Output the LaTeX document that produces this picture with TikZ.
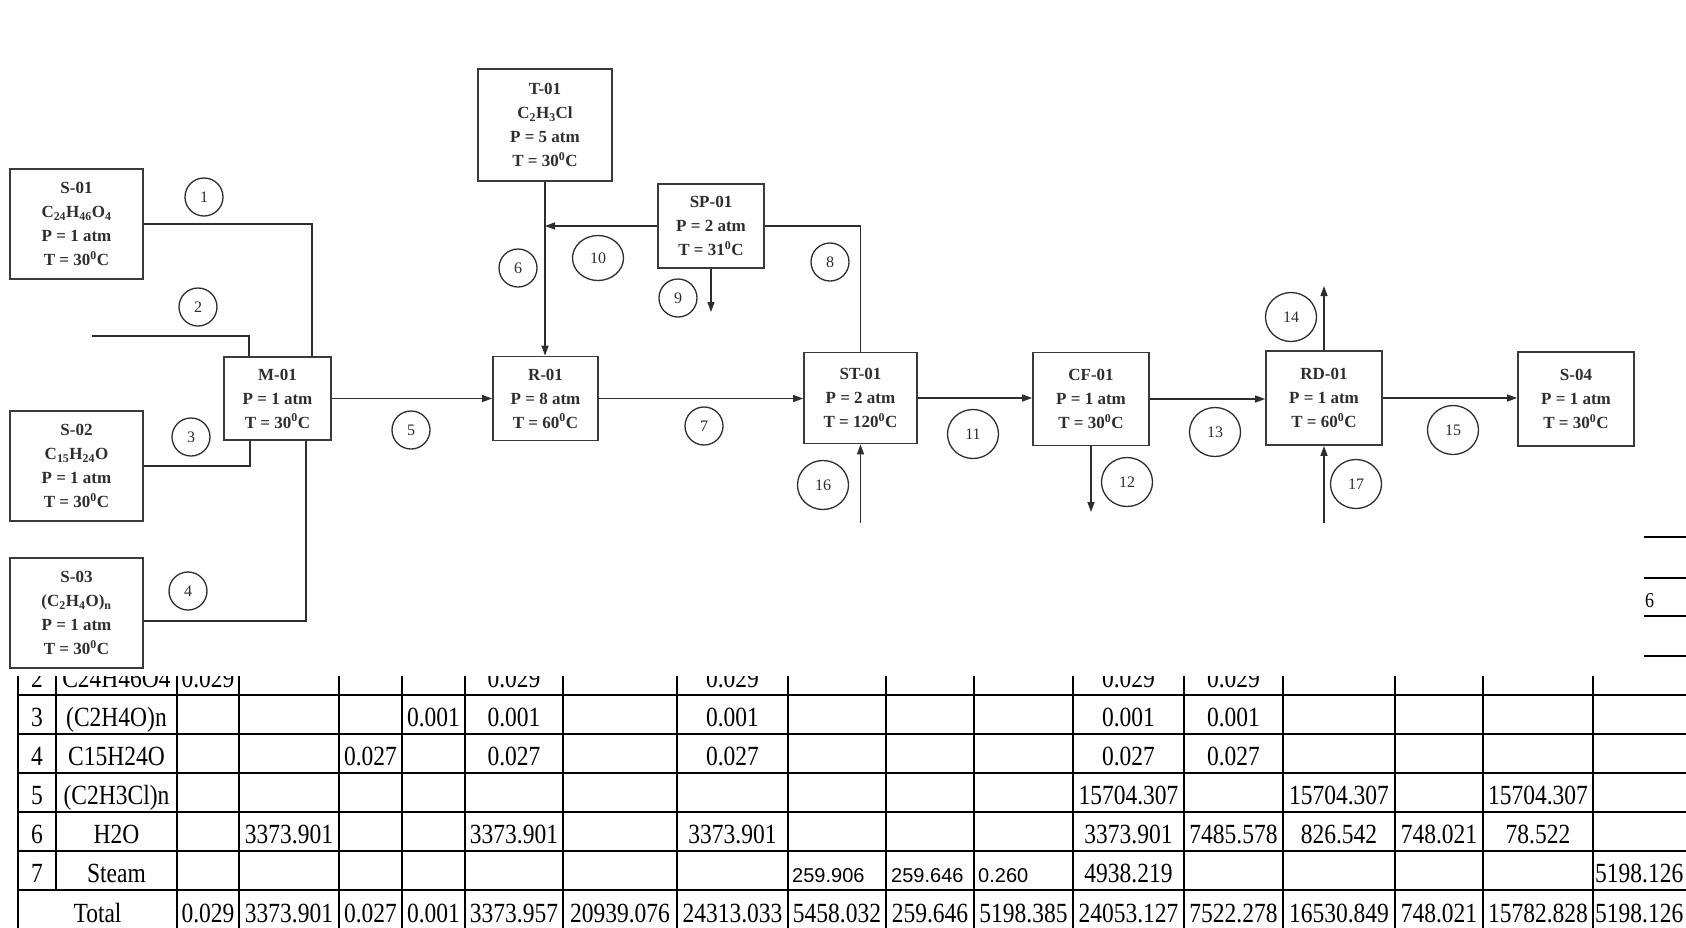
\documentclass[tikz,border=0pt]{standalone}
\usepackage{fontspec}
\setmainfont{Liberation Serif}
\newfontfamily\arialfont{Liberation Sans}
\usetikzlibrary{arrows.meta,shapes.geometric}
\definecolor{ink}{HTML}{2E2E2E}
\definecolor{edge}{HTML}{3A3A3A}
\newcommand{\dgC}{\textsuperscript{0}C}
\newcommand{\tall}[1]{\scalebox{1}[1.18]{#1}}
\tikzset{
  unit/.style={draw=edge, line width=1.8pt, align=center, text=ink,
               font=\fontsize{17}{24}\selectfont\bfseries, inner sep=2pt},
  tank/.style={unit, minimum width=133pt, minimum height=110pt},
  strm/.style={draw=ink, line width=1.3pt, circle, minimum size=38pt,
               inner sep=0pt, text=ink, font=\fontsize{16}{16}\selectfont},
  strmw/.style={strm, ellipse, minimum width=51pt, minimum height=49pt},
  flow/.style={line width=1.4pt, draw=ink},
  feed/.style={flow, -{Triangle[length=10pt,width=7pt]}},
  grid/.style={line width=2.8pt, draw=black},
  cell/.style={font=\fontsize{23.5}{28}\selectfont, anchor=base, inner sep=0pt},
  scell/.style={font=\arialfont\fontsize{20}{24}\selectfont, anchor=base west,
                inner sep=0pt},
}

\begin{document}
\begin{tikzpicture}[x=1pt, y=-1pt]
  \useasboundingbox (0,0) rectangle (1686,927);

  % ---------------------------------------------------------- the table behind
  \begin{scope}
    \clip (0,676) rectangle (1686,927);
    \foreach \y in {695,734,773,812,851,890}
      \draw[grid] (18,\y) -- (1700,\y);
    \draw[grid] (18,670) -- (18,940);
    \draw[grid] (56,670) -- (56,890);
    \foreach \x in {177,239,339,402,465,563,677,788,886,974,1073,1184,1283,1395,1483,1593}
      \draw[grid] (\x,670) -- (\x,940);

    \foreach \n/\x in {0/37, 1/208, 2/289, 3/370.5, 4/433.5, 5/514, 6/620, 7/732.5,
                       8/837, 9/930, 10/1023.5, 11/1128.5, 12/1233.5, 13/1339,
                       14/1439, 15/1538}
      \coordinate (c\n) at (\x,0);
    \coordinate (cname) at (116.5,0);
    \foreach \n/\y in {2/687, 3/726, 4/765, 5/804, 6/843, 7/882, T/922}
      \coordinate (r\n) at (0,\y);

    % row labels
    \node[cell] (k2) at (c0 |- r2) {\tall{2}};
    \node[cell] (k3) at (c0 |- r3) {\tall{3}};
    \node[cell] (k4) at (c0 |- r4) {\tall{4}};
    \node[cell] (k5) at (c0 |- r5) {\tall{5}};
    \node[cell] (k6) at (c0 |- r6) {\tall{6}};
    \node[cell] (k7) at (c0 |- r7) {\tall{7}};
    \node[cell] (m2) at (cname |- r2) {\tall{C24H46O4}};
    \node[cell] (m3) at (cname |- r3) {\tall{(C2H4O)n}};
    \node[cell] (m4) at (cname |- r4) {\tall{C15H24O}};
    \node[cell] (m5) at (cname |- r5) {\tall{(C2H3Cl)n}};
    \node[cell] (m6) at (cname |- r6) {\tall{H2O}};
    \node[cell] (m7) at (cname |- r7) {\tall{Steam}};
    \node[cell] (mT) at (97.5,922) {\tall{Total}};

    % flows
    \foreach \c/\v in {1/0.029, 5/0.029, 7/0.029, 11/0.029, 12/0.029}
      \node[cell] (v2-\c) at (c\c |- r2) {\tall{\v}};
    \foreach \c/\v in {4/0.001, 5/0.001, 7/0.001, 11/0.001, 12/0.001}
      \node[cell] (v3-\c) at (c\c |- r3) {\tall{\v}};
    \foreach \c/\v in {3/0.027, 5/0.027, 7/0.027, 11/0.027, 12/0.027}
      \node[cell] (v4-\c) at (c\c |- r4) {\tall{\v}};
    \foreach \c/\v in {11/15704.307, 13/15704.307, 15/15704.307}
      \node[cell] (v5-\c) at (c\c |- r5) {\tall{\v}};
    \foreach \c/\v in {2/3373.901, 5/3373.901, 7/3373.901, 11/3373.901,
                       12/7485.578, 13/826.542, 14/748.021, 15/78.522}
      \node[cell] (v6-\c) at (c\c |- r6) {\tall{\v}};
    \node[scell] (v7-8) at (792,882) {259.906};
    \node[scell] (v7-9) at (891,882) {259.646};
    \node[scell] (v7-10) at (978,882) {0.260};
    \node[cell] (v7-11) at (c11 |- r7) {\tall{4938.219}};
    \node[cell, anchor=base west] (v7-16) at (1595,882) {\tall{5198.126}};
    \foreach \c/\v in {1/0.029, 2/3373.901, 3/0.027, 4/0.001, 5/3373.957,
                       6/20939.076, 7/24313.033, 8/5458.032, 9/259.646,
                       10/5198.385, 11/24053.127, 12/7522.278, 13/16530.849,
                       14/748.021, 15/15782.828}
      \node[cell] (vT-\c) at (c\c |- rT) {\tall{\v}};
    \node[cell, anchor=base west] (vT-16) at (1595,922) {\tall{5198.126}};
  \end{scope}

  % page edge on the right
  \foreach \y in {537,578,616,656}
    \draw[grid] (1644,\y) -- (1686,\y);
  \node[cell, anchor=base west, font=\fontsize{18}{20}\selectfont] (pg) at (1645,607) {\tall{6}};

  % ---------------------------------------------------------- the units
  \node[tank] (s01) at (76.5,224)
    {S-01\\ C\textsubscript{24}H\textsubscript{46}O\textsubscript{4}\\ P = 1 atm\\ T = 30\dgC};
  \node[tank] (s02) at (76.5,466)
    {S-02\\ C\textsubscript{15}H\textsubscript{24}O\\ P = 1 atm\\ T = 30\dgC};
  \node[tank] (s03) at (76.5,613)
    {S-03\\ (C\textsubscript{2}H\textsubscript{4}O)\textsubscript{n}\\ P = 1 atm\\ T = 30\dgC};
  \node[unit, minimum width=134pt, minimum height=112pt] (t01) at (545,125)
    {T-01\\ C\textsubscript{2}H\textsubscript{3}Cl\\ P = 5 atm\\ T = 30\dgC};
  \node[unit, minimum width=107pt, minimum height=83pt] (m01) at (277.5,398.5)
    {M-01\\ P = 1 atm\\ T = 30\dgC};
  \node[unit, minimum width=105pt, minimum height=84pt] (r01) at (545.5,398.5)
    {R-01\\ P = 8 atm\\ T = 60\dgC};
  \node[unit, minimum width=106pt, minimum height=84pt] (sp01) at (711,226)
    {SP-01\\ P = 2 atm\\ T = 31\dgC};
  \node[unit, minimum width=113pt, minimum height=91pt] (st01) at (860.5,398)
    {ST-01\\ P = 2 atm\\ T = 120\dgC};
  \node[unit, minimum width=116pt, minimum height=93pt] (cf01) at (1091,399)
    {CF-01\\ P = 1 atm\\ T = 30\dgC};
  \node[unit, minimum width=116pt, minimum height=94pt] (rd01) at (1324,398)
    {RD-01\\ P = 1 atm\\ T = 60\dgC};
  \node[unit, minimum width=116pt, minimum height=94pt] (s04) at (1576,399)
    {S-04\\ P = 1 atm\\ T = 30\dgC};

  % ---------------------------------------------------------- the streams
  \coordinate (in2) at (92,336);
  \coordinate (out9) at (711,312);
  \coordinate (out12) at (1091,512);
  \coordinate (out14) at (1324,286);
  \coordinate (in16) at (860.5,523);
  \coordinate (in17) at (1324,523);

  \draw[flow] (s01.east) -| ([xshift=34.5pt]m01.north);
  \draw[flow] (in2) -| ([xshift=-28.5pt]m01.north);
  \draw[flow] (s02.east) -| ([xshift=-27.5pt]m01.south);
  \draw[flow] ([yshift=-8pt]s03.east) -| ([xshift=28.5pt]m01.south);
  \draw[feed] (m01.east) -- (m01.east -| r01.west);
  \draw[feed] (t01.south) -- (t01.south |- r01.north);
  \draw[feed] (sp01.west) -- (sp01.west -| t01.south);
  \draw[flow] (st01.north) |- (sp01.east);
  \draw[feed] (sp01.south) -- (out9);
  \draw[feed] (r01.east) -- (r01.east -| st01.west);
  \draw[feed] (st01.east) -- (st01.east -| cf01.west);
  \draw[feed] (cf01.south) -- (out12);
  \draw[feed] (cf01.east) -- (cf01.east -| rd01.west);
  \draw[feed] (rd01.north) -- (out14);
  \draw[feed] (rd01.east) -- (rd01.east -| s04.west);
  \draw[feed] (in16) -- (in16 |- st01.south);
  \draw[feed] (in17) -- (in17 |- rd01.south);

  % stream numbers
  \node[strm] (n1) at (204,197) {1};
  \node[strm] (n2) at (198,307) {2};
  \node[strm] (n3) at (191,437) {3};
  \node[strm] (n4) at (188,591) {4};
  \node[strm] (n5) at (411,430) {5};
  \node[strm] (n6) at (518,268) {6};
  \node[strm] (n7) at (704,426) {7};
  \node[strm] (n8) at (830,262) {8};
  \node[strm] (n9) at (678,298) {9};
  \node[strmw, minimum height=45pt] (n10) at (598,258) {10};
  \node[strmw] (n11) at (973,434) {11};
  \node[strmw] (n12) at (1127,482) {12};
  \node[strmw] (n13) at (1215,432) {13};
  \node[strmw] (n14) at (1291,317) {14};
  \node[strmw] (n15) at (1453,430) {15};
  \node[strmw] (n16) at (823,485) {16};
  \node[strmw] (n17) at (1356,484) {17};
\end{tikzpicture}
\end{document}
